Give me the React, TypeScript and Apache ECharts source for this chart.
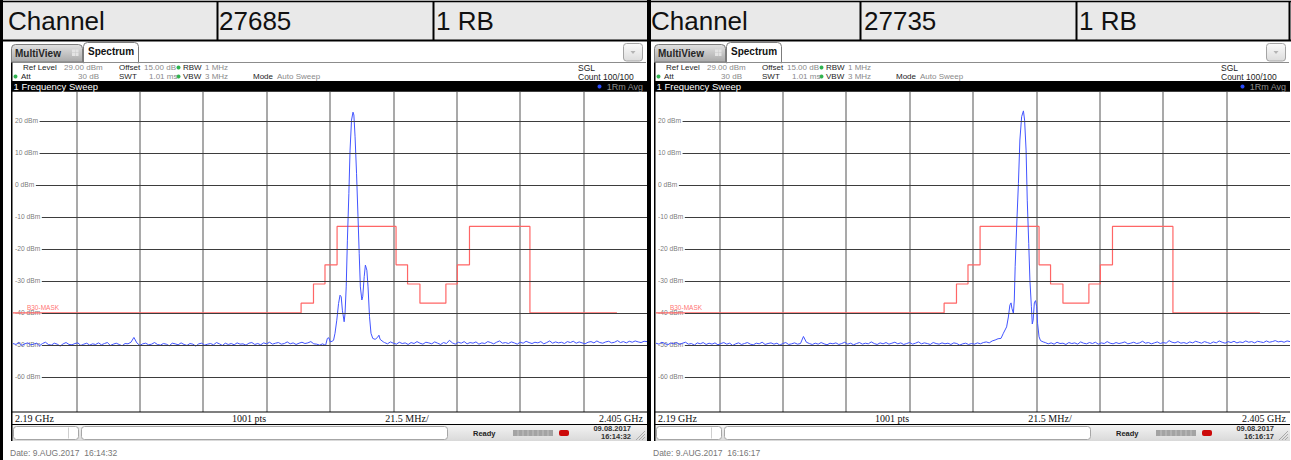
import React, { useEffect, useRef } from "react";
import * as echarts from "echarts";

// ---------------- data ----------------
const F_START = 2190; // MHz
const F_STOP = 2405; // MHz
const F_PER_DIV = 21.5; // MHz/div
const REF_LEVEL = 29; // dBm (top)
const BOTTOM_LEVEL = -71; // dBm (bottom)
const gridLevels = [20, 10, 0, -10, -20, -30, -40, -50, -60];

const maskName = "B30-MASK";
const maskEdges = [2190, 2287.7, 2291.9, 2295.8, 2299.9, 2319.9, 2323.8, 2328.0, 2336.8, 2340.7, 2344.8, 2365.3, 2394.8];
const maskLevels = [-40, -37, -31, -25, -13, -25, -31, -37, -31, -25, -13, -40];

// Left screen (channel 27685): noise floor sampled every 1 MHz + detailed signal points
const leftNoiseAStart = 2190;
const leftNoiseA = [
  -49.6, -49.9, -49.3, -50.2, -49.7, -49.4, -50.0, -49.8, -49.5, -50.3,
  -49.6, -49.2, -49.9, -50.1, -49.5, -49.8, -50.4, -49.7, -49.3, -49.9,
  -50.0, -49.6, -49.4, -50.2, -49.8, -49.5, -50.1, -49.7, -49.9, -49.4,
  -50.0, -49.6, -49.3, -50.2, -49.8, -49.5, -49.9, -50.3, -49.6, -49.7,
  -49.2, -47.7, -49.4, -50.2, -49.7, -49.5, -50.0, -49.8, -49.3, -49.9,
  -50.1, -49.6, -49.8, -50.3, -49.5, -49.7, -50.0, -49.4, -49.9, -50.2,
  -49.6, -49.8, -50.4, -49.7, -49.5, -50.1, -49.8, -49.6, -50.0, -49.3,
  -49.7, -50.2, -49.5, -49.9, -49.6, -50.0, -49.4, -49.8, -49.7, -50.1,
  -49.5, -49.3, -49.9, -49.6, -50.0, -49.4, -49.7, -49.2, -49.8, -49.5,
  -49.3, -49.8, -49.6, -49.1, -49.7, -49.4, -49.9, -49.5, -49.2, -49.6,
  -49.4, -49.0, -49.7, -49.8, -50.1, -49.7, -50.2,
];
const leftPeak = [
  [2296.6, -48.0], [2297.1, -47.8], [2297.6, -49.1], [2298.2, -48.9], [2298.7, -48.6],
  [2299.2, -46.4], [2299.8, -42.3], [2300.4, -37.1], [2300.9, -34.5], [2301.3, -35.0],
  [2301.7, -39.2], [2302.3, -42.8], [2302.6, -40.2], [2303.0, -31.9], [2303.4, -17.3],
  [2303.9, -2.7], [2304.3, 10.8], [2304.8, 20.2], [2305.3, 22.7], [2305.6, 21.8],
  [2306.0, 15.0], [2306.5, 3.6], [2307.0, -10.0], [2307.4, -21.4], [2307.8, -31.9],
  [2308.3, -36.0], [2308.6, -35.0], [2309.1, -28.7], [2309.5, -25.1], [2310.0, -26.7],
  [2310.4, -31.9], [2310.9, -41.2], [2311.4, -46.4], [2312.0, -48.0], [2312.8, -48.3],
  [2313.6, -47.7], [2314.1, -47.0], [2314.5, -48.3], [2315.6, -49.1],
];
const leftNoiseBStart = 2316;
const leftNoiseB = [
  -49.3, -49.7, -49.1, -49.5, -49.8, -49.2, -49.6, -49.4, -49.9, -49.3,
  -49.6, -49.0, -49.5, -49.8, -49.2, -49.4, -49.7, -49.1, -49.5, -49.9,
  -49.3, -49.6, -48.6, -49.4, -49.8, -49.2, -49.5, -49.0, -49.7, -49.3,
  -49.5, -49.1, -49.8, -49.4, -49.6, -49.0, -49.3, -49.7, -49.2, -48.8,
  -49.5, -49.3, -49.6, -49.1, -49.4, -49.8, -49.2, -49.5, -48.9, -49.3,
  -49.6, -49.2, -49.4, -49.0, -49.7, -49.3, -48.8, -49.5, -49.1, -49.4,
  -49.2, -49.6, -49.0, -49.3, -48.9, -49.5, -49.1, -49.4, -49.7, -49.2,
  -49.0, -49.4, -48.8, -49.3, -49.5, -49.1, -48.9, -49.4, -49.2, -48.7,
  -49.3, -49.0, -49.4, -48.9, -49.2, -48.8, -49.1, -49.3, -48.9, -49.0,
];

// Right screen (channel 27735)
const rightNoiseAStart = 2190;
const rightNoiseA = [
  -49.5, -49.8, -49.2, -49.6, -50.0, -49.4, -49.7, -49.3, -49.9, -49.5,
  -49.2, -49.8, -49.6, -50.1, -49.4, -49.7, -49.3, -49.9, -49.5, -49.8,
  -49.4, -50.0, -49.6, -49.3, -49.8, -49.5, -50.2, -49.7, -49.4, -49.9,
  -49.6, -49.3, -49.8, -50.0, -49.5, -49.7, -49.2, -49.9, -49.6, -49.4,
  -49.8, -49.5, -50.1, -49.6, -49.3, -49.9, -49.7, -49.4, -49.8, -49.6,
  -47.4, -49.2, -49.6, -49.9, -49.5, -49.8, -49.3, -49.7, -50.0, -49.5,
  -49.7, -49.4, -49.9, -49.6, -49.2, -49.8, -49.5, -50.0, -49.6, -49.3,
  -49.8, -49.5, -49.7, -49.1, -49.6, -49.9, -49.4, -49.7, -49.3, -49.8,
  -49.5, -49.2, -49.7, -49.4, -49.9, -49.6, -49.3, -49.8, -49.5, -49.1,
  -49.7, -49.4, -49.6, -49.9, -49.3, -49.6, -49.8, -49.4, -49.7, -49.5,
  -49.9, -49.4, -49.6, -50.1, -49.7, -49.5, -49.9, -49.6, -49.8, -49.4,
  -49.7, -49.3, -49.1, -49.4, -48.8, -48.5, -48.1, -48.0,
];
const rightPeak = [
  [2307.8, -46.4], [2308.9, -44.4], [2309.5, -41.3], [2310.0, -37.6], [2310.4, -36.9],
  [2310.7, -38.6], [2311.2, -40.2], [2311.5, -36.0], [2311.8, -25.6], [2312.3, -13.1],
  [2312.9, 0.4], [2313.4, 14.0], [2314.0, 21.3], [2314.6, 23.1], [2315.0, 20.2],
  [2315.5, 10.8], [2315.9, -4.8], [2316.4, -18.3], [2316.8, -29.8], [2317.3, -38.1],
  [2317.6, -43.5], [2317.9, -42.3], [2318.3, -36.9], [2318.7, -36.2], [2319.1, -38.1],
  [2319.4, -43.3], [2319.9, -47.5], [2320.4, -48.7], [2321.3, -49.1],
];
const rightNoiseBStart = 2322;
const rightNoiseB = [
  -49.3, -49.7, -49.4, -49.8, -49.2, -49.6, -49.5, -49.9, -49.3, -49.6,
  -49.4, -49.8, -49.1, -49.5, -49.7, -49.3, -49.6, -49.2, -49.8, -49.4,
  -49.6, -49.0, -49.5, -49.7, -49.3, -49.6, -49.4, -49.1, -49.7, -49.5,
  -49.2, -49.6, -49.4, -48.9, -49.5, -49.3, -49.7, -49.4, -49.1, -49.6,
  -49.3, -49.5, -48.7, -49.2, -49.4, -49.0, -49.5, -49.3, -49.6, -49.1,
  -49.4, -48.9, -49.2, -49.5, -49.0, -49.3, -49.6, -49.1, -49.4, -48.8,
  -49.2, -49.5, -49.0, -49.3, -48.9, -49.4, -49.1, -49.3, -48.8, -49.2,
  -49.0, -49.4, -48.9, -49.1, -49.3, -48.8, -49.2, -49.0, -48.7, -49.1,
  -48.9, -49.2, -48.8, -49.0,
];

const headerCells = ["Channel", "27685", "1 RB", "Channel", "27735", "1 RB"];
const panelTimes = ["16:14:32", "16:16:17"];
const panelDate = "09.08.2017";
const panelDateLong = "9.AUG.2017";

// ---------------- layout / helpers ----------------
const SANS = '"Liberation Sans", Arial, sans-serif';
const SERIF = '"Liberation Serif", "Times New Roman", serif';
const PLOT_W = 634;
const PX_PER_MHZ = PLOT_W / (F_STOP - F_START);
const LABEL_FS = 6.7;
const CHAR_EM: Record<string, number> = { "-": 0.333, " ": 0.278, d: 0.556, B: 0.667, m: 0.833 };

function labelText(v: number) {
  return `${v} dBm`;
}
function labelWidthPx(s: string) {
  return s.split("").reduce((a, c) => a + (CHAR_EM[c] ?? 0.556), 0) * LABEL_FS;
}

function buildTrace(noiseAStart: number, noiseA: number[], peak: number[][], noiseBStart: number, noiseB: number[]) {
  const pts: number[][] = [];
  noiseA.forEach((v, i) => pts.push([noiseAStart + i - F_START, v]));
  peak.forEach(([f, v]) => pts.push([f - F_START, v]));
  noiseB.forEach((v, i) => pts.push([noiseBStart + i - F_START, v]));
  return pts;
}

function buildMask() {
  const pts: number[][] = [];
  maskLevels.forEach((lv, i) => {
    pts.push([maskEdges[i] - F_START, lv]);
    pts.push([maskEdges[i + 1] - F_START, lv]);
  });
  return pts;
}

function txt(x: number, y: number, text: string, size: number, color: string, o: any = {}) {
  const align = o.align || "left";
  return {
    type: "text",
    x,
    y,
    silent: true,
    z: 10,
    style: {
      text,
      fill: color,
      fontSize: size,
      fontFamily: o.family || SANS,
      fontWeight: o.weight || "normal",
      align,
      textAlign: align,
      verticalAlign: "middle",
      textVerticalAlign: "middle",
    },
  };
}
function rect(x: number, y: number, w: number, h: number, style: any, r: any = 0) {
  return { type: "rect", silent: true, z: 5, shape: { x, y, width: w, height: h, r }, style };
}
function line(x1: number, y1: number, x2: number, y2: number, stroke: string, lw = 1) {
  return { type: "line", silent: true, z: 6, shape: { x1, y1, x2, y2 }, style: { stroke, lineWidth: lw } };
}
function dot(cx: number, cy: number, r: number, fill: string) {
  return { type: "circle", silent: true, z: 7, shape: { cx, cy, r }, style: { fill } };
}
function vgrad(c1: string, c2: string) {
  return new echarts.graphic.LinearGradient(0, 0, 0, 1, [
    { offset: 0, color: c1 },
    { offset: 1, color: c2 },
  ]);
}

function panelChrome(ox: number, time: string) {
  const els: any[] = [];
  const DARK = "#1c1c1c";
  const GREY = "#8a8a8a";
  const GREEN = "#2fb34f";
  const FS = 8;
  // tab row
  els.push(line(ox + 11, 62.5, ox + 646, 62.5, "#8c8c8c", 1));
  els.push(rect(ox + 11.5, 44.5, 71, 17.5, { fill: vgrad("#e2e2e2", "#a9a9a9"), stroke: "#7c7c7c", lineWidth: 1 }, [4, 4, 0, 0]));
  els.push(txt(ox + 15, 53.5, "MultiView", 10, "#262626", { weight: "bold" }));
  [[72, 49.5], [75.5, 49.5], [72, 53], [75.5, 53]].forEach(([x, y]) =>
    els.push(rect(ox + x, y, 3, 3, { fill: "#e4e4e4" }))
  );
  els.push(rect(ox + 83.5, 42.5, 55, 20.5, { fill: "#ffffff", stroke: "#7c7c7c", lineWidth: 1 }, [4, 4, 0, 0]));
  els.push(rect(ox + 84.2, 61.5, 53.6, 2.5, { fill: "#ffffff" }));
  els.push(txt(ox + 88, 51.5, "Spectrum", 10, "#111111", { weight: "bold" }));
  els.push(rect(ox + 623.5, 43.5, 19, 17.5, { fill: vgrad("#fbfbfb", "#dcdcdc"), stroke: "#a4a4a4", lineWidth: 1 }, 3));
  els.push({
    type: "polygon",
    silent: true,
    z: 8,
    shape: { points: [[ox + 630.5, 51], [ox + 635.5, 51], [ox + 633, 54]] },
    style: { fill: "#b4b4b4" },
  });
  // info rows
  const r1 = 67.5;
  const r2 = 76.5;
  els.push(txt(ox + 23, r1, "Ref Level", FS, DARK));
  els.push(txt(ox + 64, r1, "29.00 dBm", FS, GREY));
  els.push(txt(ox + 119, r1, "Offset", FS, DARK));
  els.push(txt(ox + 144, r1, "15.00 dB", FS, GREY));
  els.push(dot(ox + 178.5, r1, 2, GREEN));
  els.push(txt(ox + 183, r1, "RBW", FS, DARK));
  els.push(txt(ox + 205, r1, "1 MHz", FS, GREY));
  els.push(txt(ox + 578, r1, "SGL", 8.5, DARK));
  els.push(dot(ox + 15.5, r2, 2, GREEN));
  els.push(txt(ox + 21, r2, "Att", FS, DARK));
  els.push(txt(ox + 99, r2, "30 dB", FS, GREY, { align: "right" }));
  els.push(txt(ox + 119, r2, "SWT", FS, DARK));
  els.push(txt(ox + 149, r2, "1.01 ms", FS, GREY));
  els.push(dot(ox + 178.5, r2, 2, GREEN));
  els.push(txt(ox + 183, r2, "VBW", FS, DARK));
  els.push(txt(ox + 205, r2, "3 MHz", FS, GREY));
  els.push(txt(ox + 253, r2, "Mode", FS, DARK));
  els.push(txt(ox + 277, r2, "Auto Sweep", FS, GREY));
  els.push(txt(ox + 578, r2, "Count 100/100", 8.5, DARK));
  // black title bar
  els.push(rect(ox + 11, 81, 636, 10.8, { fill: "#000000" }));
  els.push(txt(ox + 13.5, 86.5, "1 Frequency Sweep", 9.5, "#ffffff"));
  els.push(dot(ox + 599.5, 86.5, 2, "#2a4cff"));
  els.push(txt(ox + 643, 86.5, "1Rm Avg", 9, "#8e8e8e", { align: "right" }));
  // window frame lines
  els.push(line(ox + 11.75, 62.5, ox + 11.75, 441, "#000000", 1.5));
  els.push(line(ox + 11, 412, ox + 647, 412, "#000000", 1.2));
  els.push(line(ox + 11, 424.5, ox + 647, 424.5, "#000000", 1));
  // bottom labels
  els.push(txt(ox + 15, 418.5, `${(F_START / 1000).toFixed(2)} GHz`, 10, "#111111", { family: SERIF }));
  els.push(txt(ox + 249, 418.5, "1001 pts", 10, "#111111", { family: SERIF, align: "center" }));
  els.push(txt(ox + 407, 418.5, `${F_PER_DIV} MHz/`, 10, "#111111", { family: SERIF, align: "center" }));
  els.push(txt(ox + 643, 418.5, `${(F_STOP / 1000).toFixed(3)} GHz`, 10, "#111111", { family: SERIF, align: "right" }));
  // status bar
  els.push(rect(ox + 12.5, 425, 634.5, 16, { fill: vgrad("#f3f3f3", "#d9d9d9") }));
  els.push(rect(ox + 13.5, 426.5, 65, 13, { fill: "#ffffff", stroke: "#a6a6a6", lineWidth: 1 }, 3));
  els.push(line(ox + 68.5, 427.5, ox + 68.5, 438.5, "#cfcfcf", 1));
  els.push(rect(ox + 81.5, 426.5, 366, 13, { fill: "#ffffff", stroke: "#a6a6a6", lineWidth: 1 }, 3));
  els.push(txt(ox + 473, 433, "Ready", 7.5, "#222222", { weight: "bold" }));
  els.push(rect(ox + 513, 430, 40, 6, { fill: "#a3a3a3" }));
  for (let k = 1; k < 8; k++) els.push(line(ox + 513 + k * 5, 430, ox + 513 + k * 5, 436, "#c9c9c9", 0.8));
  els.push(rect(ox + 559, 430, 10, 6, { fill: "#cc0a0a" }, 2));
  els.push(txt(ox + 631, 428.7, panelDate, 7.5, "#333333", { weight: "bold", align: "right" }));
  els.push(txt(ox + 631, 436, time, 7.5, "#333333", { weight: "bold", align: "right" }));
  els.push(line(ox + 645, 431, ox + 636, 440, "#9a9a9a", 0.8));
  els.push(line(ox + 645, 434, ox + 639, 440, "#9a9a9a", 0.8));
  els.push(line(ox + 645, 437, ox + 642, 440, "#9a9a9a", 0.8));
  // footer date
  els.push(txt(ox + 10, 452.5, `Date: ${panelDateLong}  ${time}`, 8.5, "#777777"));
  return els;
}

function buildGraphics() {
  const els: any[] = [];
  // header table
  els.push(rect(0, 0, 1291, 41, { fill: "#e9e9e9" }));
  els.push(line(0, 1.5, 1291, 1.5, "#000000", 1.5));
  els.push(line(0, 40.5, 1291, 40.5, "#000000", 2));
  [217.5, 433.5, 860.5, 1076.5, 1289.5].forEach((x) => els.push(line(x, 1, x, 41, "#000000", 2)));
  const cellX = [8, 219, 436, 651, 864, 1079];
  headerCells.forEach((t, i) => els.push(txt(cellX[i], 21, t, 26, "#111111")));
  // outer border and divider
  els.push(rect(0, 0, 3, 460, { fill: "#000000" }));
  els.push(rect(647, 0, 4, 441, { fill: "#000000" }));
  els.push(...panelChrome(0, panelTimes[0]));
  els.push(...panelChrome(643, panelTimes[1]));
  return els;
}

function panelSeries(idx: number, trace: number[][]) {
  const mask = buildMask();
  const span = F_STOP - F_START;
  return [
    {
      type: "line",
      xAxisIndex: idx,
      yAxisIndex: idx,
      data: [[0, gridLevels[0]]],
      showSymbol: false,
      lineStyle: { opacity: 0 },
      silent: true,
      z: 1,
      markLine: {
        silent: true,
        symbol: ["none", "none"],
        label: { show: false },
        emphasis: { disabled: true },
        lineStyle: { color: "#3d3d3d", width: 1, type: "solid" },
        // each grid line starts just after its level label
        data: gridLevels.map((v) => [
          { coord: [(3.5 + labelWidthPx(labelText(v))) / PX_PER_MHZ, v] },
          { coord: [span, v] },
        ]),
      },
    },
    {
      type: "scatter",
      xAxisIndex: idx,
      yAxisIndex: idx,
      data: gridLevels.map((v) => [0, v]),
      symbolSize: 1,
      itemStyle: { color: "rgba(0,0,0,0)" },
      silent: true,
      z: 2,
      label: {
        show: true,
        position: "right",
        distance: 1.5,
        formatter: (p: any) => labelText(p.value[1]),
        fontSize: LABEL_FS,
        fontFamily: SANS,
        color: "#555555",
      },
    },
    {
      type: "line",
      xAxisIndex: idx,
      yAxisIndex: idx,
      data: mask,
      showSymbol: false,
      silent: true,
      z: 3,
      lineStyle: { color: "#ff6666", width: 1.2 },
    },
    {
      type: "scatter",
      xAxisIndex: idx,
      yAxisIndex: idx,
      data: [[4.7, -38.3]],
      symbolSize: 0.1,
      itemStyle: { color: "rgba(0,0,0,0)" },
      silent: true,
      z: 5,
      label: {
        show: true,
        position: "right",
        distance: 0,
        formatter: maskName,
        fontSize: 6.5,
        fontFamily: SANS,
        color: "#ff4a4a",
      },
    },
    {
      type: "line",
      xAxisIndex: idx,
      yAxisIndex: idx,
      data: trace,
      showSymbol: false,
      silent: true,
      z: 4,
      lineStyle: { color: "#4254ff", width: 1 },
    },
  ];
}

function buildOption() {
  const lefts = [13, 656];
  const grids = lefts.map((l) => ({ left: l, top: 92, width: PLOT_W, height: 320, containLabel: false }));
  const xAxes = lefts.map((_, i) => ({
    type: "value",
    gridIndex: i,
    min: 0,
    max: F_STOP - F_START,
    interval: F_PER_DIV,
    axisLine: { show: false },
    axisTick: { show: false },
    axisLabel: { show: false },
    splitLine: { show: true, showMinLine: false, showMaxLine: false, lineStyle: { color: "#8d8d8d", width: 1.5 } },
  }));
  const yAxes = lefts.map((_, i) => ({
    type: "value",
    gridIndex: i,
    min: BOTTOM_LEVEL,
    max: REF_LEVEL,
    axisLine: { show: false },
    axisTick: { show: false },
    axisLabel: { show: false },
    splitLine: { show: false },
  }));
  const leftTrace = buildTrace(leftNoiseAStart, leftNoiseA, leftPeak, leftNoiseBStart, leftNoiseB);
  const rightTrace = buildTrace(rightNoiseAStart, rightNoiseA, rightPeak, rightNoiseBStart, rightNoiseB);
  return {
    animation: false,
    backgroundColor: "#ffffff",
    grid: grids,
    xAxis: xAxes,
    yAxis: yAxes,
    series: [...panelSeries(0, leftTrace), ...panelSeries(1, rightTrace)],
    graphic: { elements: buildGraphics() },
  };
}

export default function App() {
  const ref = useRef<HTMLDivElement>(null);
  useEffect(() => {
    if (!ref.current) return;
    const chart = echarts.init(ref.current, null, { renderer: "svg", width: 1291, height: 460 });
    chart.setOption(buildOption() as any);
    return () => chart.dispose();
  }, []);
  return (
    <div
      ref={ref}
      style={{ position: "absolute", left: 0, top: 0, width: 1291, height: 460, background: "#ffffff" }}
    />
  );
}
